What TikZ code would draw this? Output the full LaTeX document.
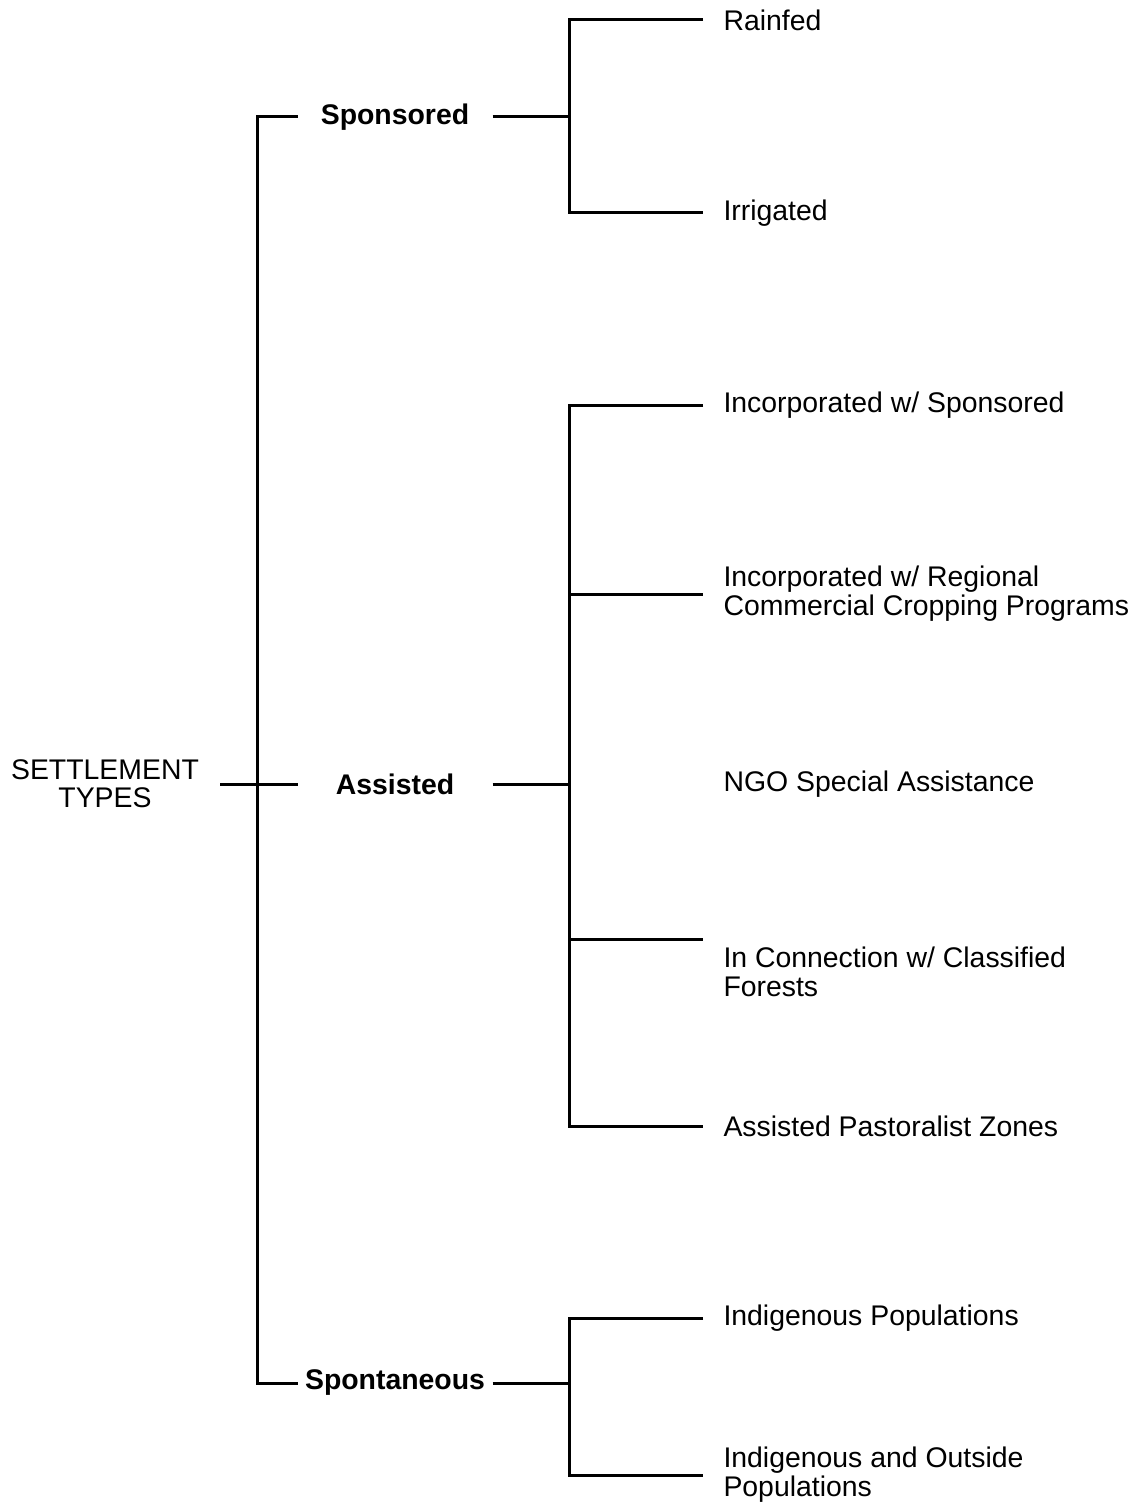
\documentclass[tikz,border=0pt]{standalone}
\usepackage{fontspec}
\setmainfont{Liberation Sans}
\begin{document}
\begin{tikzpicture}[x=0.5pt,y=-0.5pt,line width=1.5pt,
  kind/.style={font=\fontsize{14.2}{14.5}\selectfont\bfseries,minimum width=96pt,inner sep=0pt},
  leaf/.style={anchor=west,align=left,inner xsep=9.5pt,inner ysep=3pt,font=\fontsize{14.2}{14.5}\selectfont}]
\useasboundingbox (0,0) rectangle (1141,1508);
\node[align=center,inner xsep=10pt,font=\fontsize{14.2}{14}\selectfont] (root) at (105,784) {SETTLEMENT\\TYPES};
\node[kind] (spons) at (395,117) {Sponsored};
\node[kind] (assist) at (395,784) {Assisted};
\node[kind] (spont) at (395,1383) {Spontaneous};
% leaves
\node[leaf] (rain) at (703,20) {Rainfed};
\node[leaf] (irrig) at (703,213) {Irrigated};
\node[leaf] (inc1) at (703,405) {Incorporated w/ Sponsored};
\node[leaf] (inc2) at (703,594) {Incorporated w/ Regional\\Commercial Cropping Programs};
\node[leaf] (ngo) at (703,784) {NGO Special Assistance};
\node[leaf,anchor=north west] (forest) at (703,939) {In Connection w/ Classified\\Forests};
\node[leaf] (past) at (703,1126) {Assisted Pastoralist Zones};
\node[leaf] (indig) at (703,1318) {Indigenous Populations};
\node[leaf] (outside) at (703,1475) {Indigenous and Outside\\Populations};
% trunk
\draw (root.east) -- (assist.west);
\draw (spons.west) -- ++(-40,0) |- (spont.west);
% sponsored
\draw (spons.east) -- ++(77,0) coordinate (sj);
\draw (rain.west) -| (sj) |- (irrig.west);
% assisted
\draw (assist.east) -- ++(77,0) coordinate (aj);
\draw (inc1.west) -| (aj) |- (past.west);
\draw (aj |- inc2.west) -- (inc2.west);
\draw (aj |- forest.north west) -- (forest.north west);
% spontaneous
\draw (spont.east) -- ++(77,0) coordinate (pj);
\draw (indig.west) -| (pj) |- (outside.west);
\end{tikzpicture}
\end{document}
